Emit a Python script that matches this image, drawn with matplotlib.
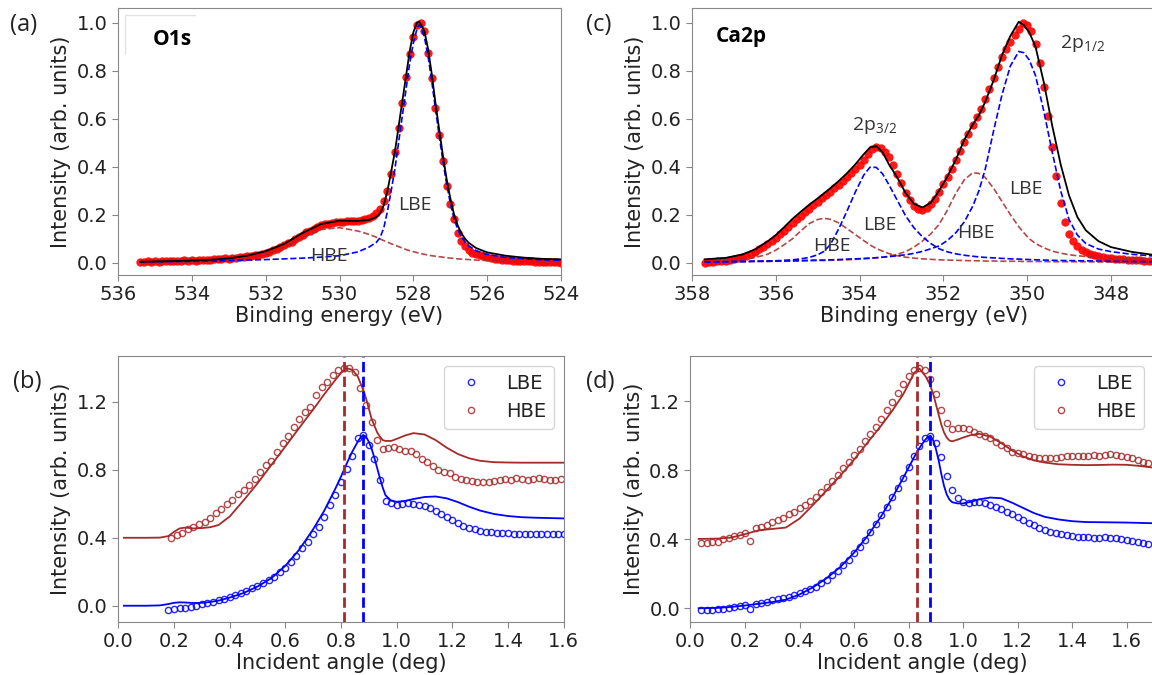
import matplotlib
matplotlib.use("Agg")
import matplotlib.pyplot as plt

# ---------------- (a) O1s spectrum ----------------
o1s_energy = [
    535.4, 535.3, 535.2, 535.1, 535.0, 534.9, 534.8, 534.7, 534.6, 534.5,
    534.4, 534.3, 534.2, 534.1, 534.0, 533.9, 533.8, 533.7, 533.6, 533.5,
    533.4, 533.3, 533.2, 533.1, 533.0, 532.9, 532.8, 532.7, 532.6, 532.5,
    532.4, 532.3, 532.2, 532.1, 532.0, 531.9, 531.8, 531.7, 531.6, 531.5,
    531.4, 531.3, 531.2, 531.1, 531.0, 530.9, 530.8, 530.7, 530.6, 530.5,
    530.4, 530.3, 530.2, 530.1, 530.0, 529.9, 529.8, 529.7, 529.6, 529.5,
    529.4, 529.3, 529.2, 529.1, 529.0, 528.9, 528.8, 528.7, 528.6, 528.5,
    528.4, 528.3, 528.2, 528.1, 528.0, 527.9, 527.8, 527.7, 527.6, 527.5,
    527.4, 527.3, 527.2, 527.1, 527.0, 526.9, 526.8, 526.7, 526.6, 526.5,
    526.4, 526.3, 526.2, 526.1, 526.0, 525.9, 525.8, 525.7, 525.6, 525.5,
    525.4, 525.3, 525.2, 525.1, 525.0, 524.9, 524.8, 524.7, 524.6, 524.5,
    524.4, 524.3, 524.2, 524.1, 524.0]
o1s_data = [
    0.004, 0.002, 0.006, 0.003, 0.005, 0.004, 0.007, 0.005, 0.008, 0.006,
    0.008, 0.007, 0.010, 0.008, 0.011, 0.009, 0.012, 0.011, 0.013, 0.012,
    0.014, 0.015, 0.016, 0.018, 0.017, 0.020, 0.021, 0.023, 0.025, 0.027,
    0.029, 0.031, 0.034, 0.037, 0.041, 0.046, 0.051, 0.057, 0.064, 0.072,
    0.080, 0.088, 0.097, 0.107, 0.117, 0.126, 0.134, 0.142, 0.149, 0.155,
    0.160, 0.163, 0.166, 0.168, 0.170, 0.171, 0.172, 0.173, 0.174, 0.175,
    0.177, 0.181, 0.187, 0.196, 0.208, 0.225, 0.255, 0.300, 0.370, 0.460,
    0.560, 0.665, 0.775, 0.870, 0.940, 0.990, 1.000, 0.965, 0.875, 0.770,
    0.645, 0.530, 0.425, 0.320, 0.245, 0.180, 0.125, 0.092, 0.068, 0.052,
    0.042, 0.035, 0.030, 0.026, 0.022, 0.020, 0.017, 0.015, 0.013, 0.012,
    0.010, 0.009, 0.008, 0.007, 0.006, 0.006, 0.005, 0.004, 0.004, 0.003,
    0.003, 0.002, 0.002, 0.001, 0.000]

o1s_fit_energy = [
    535.4, 535.0, 534.5, 534.0, 533.5, 533.0, 532.5, 532.0, 531.5, 531.0,
    530.5, 530.0, 529.5, 529.2, 529.0, 528.9, 528.8, 528.7, 528.6, 528.5,
    528.4, 528.3, 528.2, 528.1, 528.0, 527.9, 527.85, 527.8, 527.7, 527.6,
    527.5, 527.4, 527.3, 527.2, 527.1, 527.0, 526.9, 526.8, 526.7, 526.6,
    526.5, 526.3, 526.0, 525.5, 525.0, 524.5, 524.0]
o1s_total = [
    0.004, 0.005, 0.007, 0.009, 0.012, 0.018, 0.029, 0.048, 0.078, 0.124,
    0.161, 0.175, 0.174, 0.178, 0.190, 0.205, 0.240, 0.300, 0.380, 0.462,
    0.566, 0.671, 0.775, 0.880, 0.960, 1.000, 1.005, 0.995, 0.965, 0.890,
    0.785, 0.665, 0.555, 0.448, 0.350, 0.270, 0.203, 0.156, 0.123, 0.100,
    0.083, 0.061, 0.043, 0.029, 0.021, 0.016, 0.014]
o1s_lbe = [
    0.003, 0.004, 0.005, 0.006, 0.007, 0.009, 0.011, 0.013, 0.016, 0.019,
    0.023, 0.029, 0.045, 0.065, 0.085, 0.105, 0.145, 0.215, 0.300, 0.390,
    0.500, 0.610, 0.720, 0.830, 0.915, 0.975, 0.990, 0.985, 0.940, 0.860,
    0.755, 0.640, 0.530, 0.425, 0.330, 0.250, 0.185, 0.140, 0.108, 0.086,
    0.070, 0.050, 0.034, 0.022, 0.016, 0.012, 0.010]
o1s_hbe = [
    0.000, 0.001, 0.002, 0.003, 0.005, 0.009, 0.018, 0.035, 0.062, 0.105,
    0.138, 0.146, 0.132, 0.118, 0.106, 0.099, 0.092, 0.086, 0.079, 0.073,
    0.067, 0.061, 0.055, 0.050, 0.046, 0.042, 0.040, 0.038, 0.035, 0.032,
    0.029, 0.027, 0.025, 0.023, 0.021, 0.019, 0.018, 0.016, 0.015, 0.014,
    0.013, 0.011, 0.009, 0.007, 0.005, 0.004, 0.004]

# ---------------- (c) Ca2p spectrum ----------------
ca_energy = [
    357.7, 357.6, 357.5, 357.4, 357.3, 357.2, 357.1, 357.0, 356.9, 356.8,
    356.7, 356.6, 356.5, 356.4, 356.3, 356.2, 356.1, 356.0, 355.9, 355.8,
    355.7, 355.6, 355.5, 355.4, 355.3, 355.2, 355.1, 355.0, 354.9, 354.8,
    354.7, 354.6, 354.5, 354.4, 354.3, 354.2, 354.1, 354.0, 353.9, 353.8,
    353.7, 353.6, 353.5, 353.4, 353.3, 353.2, 353.1, 353.0, 352.9, 352.8,
    352.7, 352.6, 352.5, 352.4, 352.3, 352.2, 352.1, 352.0, 351.9, 351.8,
    351.7, 351.6, 351.5, 351.4, 351.3, 351.2, 351.1, 351.0, 350.9, 350.8,
    350.7, 350.6, 350.5, 350.4, 350.3, 350.2, 350.1, 350.0, 349.9, 349.8,
    349.7, 349.6, 349.5, 349.4, 349.3, 349.2, 349.1, 349.0, 348.9, 348.8,
    348.7, 348.6, 348.5, 348.4, 348.3, 348.2, 348.1, 348.0, 347.9, 347.8,
    347.7, 347.6, 347.5, 347.4, 347.3, 347.2, 347.1, 347.0]
ca_data = [
    0.000, 0.002, 0.004, 0.005, 0.007, 0.009, 0.011, 0.014, 0.018, 0.023,
    0.029, 0.036, 0.045, 0.055, 0.066, 0.078, 0.090, 0.104, 0.118, 0.133,
    0.149, 0.165, 0.180, 0.195, 0.210, 0.225, 0.240, 0.254, 0.268, 0.282,
    0.296, 0.310, 0.325, 0.340, 0.356, 0.373, 0.390, 0.408, 0.428, 0.452,
    0.472, 0.482, 0.478, 0.463, 0.440, 0.408, 0.370, 0.330, 0.292, 0.262,
    0.238, 0.224, 0.218, 0.226, 0.244, 0.266, 0.294, 0.326, 0.358, 0.392,
    0.428, 0.465, 0.502, 0.538, 0.572, 0.605, 0.640, 0.680, 0.725, 0.770,
    0.815, 0.855, 0.890, 0.920, 0.948, 0.975, 1.000, 0.990, 0.965, 0.910,
    0.830, 0.730, 0.610, 0.480, 0.360, 0.250, 0.170, 0.120, 0.090, 0.068,
    0.053, 0.043, 0.036, 0.030, 0.026, 0.022, 0.020, 0.018, 0.016, 0.015,
    0.014, 0.013, 0.012, 0.011, 0.010, 0.009, 0.008, 0.007]

ca_fit_energy = [
    357.7, 357.2, 356.8, 356.5, 356.2, 356.0, 355.8, 355.6, 355.4, 355.2,
    355.0, 354.85, 354.7, 354.5, 354.3, 354.1, 353.9, 353.75, 353.6, 353.45,
    353.3, 353.1, 352.9, 352.7, 352.5, 352.3, 352.1, 351.9, 351.7, 351.5,
    351.3, 351.15, 351.0, 350.8, 350.6, 350.4, 350.2, 350.08, 349.95, 349.8,
    349.6, 349.4, 349.2, 349.0, 348.8, 348.6, 348.3, 348.0, 347.5, 347.0]
ca_total = [
    0.014, 0.020, 0.034, 0.055, 0.088, 0.115, 0.148, 0.183, 0.213, 0.242,
    0.268, 0.289, 0.310, 0.340, 0.373, 0.410, 0.452, 0.480, 0.486, 0.460,
    0.410, 0.355, 0.290, 0.245, 0.230, 0.250, 0.300, 0.360, 0.430, 0.512,
    0.575, 0.615, 0.670, 0.760, 0.865, 0.945, 1.004, 0.990, 0.960, 0.900,
    0.750, 0.570, 0.410, 0.280, 0.190, 0.135, 0.090, 0.065, 0.045, 0.033]
ca_lbe_32 = [
    0.003, 0.004, 0.005, 0.006, 0.007, 0.008, 0.010, 0.012, 0.016, 0.022,
    0.033, 0.047, 0.075, 0.140, 0.215, 0.295, 0.365, 0.398, 0.397, 0.370,
    0.325, 0.260, 0.195, 0.145, 0.108, 0.080, 0.058, 0.045, 0.037, 0.031,
    0.027, 0.024, 0.022, 0.020, 0.018, 0.016, 0.015, 0.014, 0.013, 0.012,
    0.011, 0.010, 0.009, 0.009, 0.008, 0.008, 0.007, 0.006, 0.005, 0.004]
ca_hbe_32 = [
    0.004, 0.008, 0.013, 0.021, 0.035, 0.052, 0.075, 0.100, 0.133, 0.163,
    0.180, 0.185, 0.181, 0.166, 0.142, 0.117, 0.092, 0.074, 0.059, 0.048,
    0.038, 0.029, 0.023, 0.019, 0.016, 0.014, 0.012, 0.011, 0.010, 0.009,
    0.008, 0.008, 0.007, 0.007, 0.006, 0.006, 0.006, 0.005, 0.005, 0.005,
    0.005, 0.004, 0.004, 0.004, 0.004, 0.004, 0.003, 0.003, 0.003, 0.003]
ca_hbe_12 = [
    0.003, 0.004, 0.004, 0.005, 0.005, 0.006, 0.006, 0.007, 0.007, 0.008,
    0.009, 0.009, 0.010, 0.011, 0.012, 0.014, 0.016, 0.018, 0.020, 0.023,
    0.027, 0.035, 0.046, 0.065, 0.090, 0.120, 0.160, 0.220, 0.290, 0.345,
    0.375, 0.372, 0.355, 0.310, 0.255, 0.200, 0.150, 0.125, 0.100, 0.080,
    0.062, 0.048, 0.040, 0.033, 0.029, 0.026, 0.022, 0.020, 0.018, 0.017]
ca_lbe_12 = [
    0.004, 0.004, 0.005, 0.006, 0.006, 0.007, 0.008, 0.008, 0.009, 0.010,
    0.011, 0.011, 0.012, 0.013, 0.015, 0.016, 0.018, 0.019, 0.021, 0.023,
    0.025, 0.029, 0.033, 0.039, 0.047, 0.058, 0.070, 0.093, 0.125, 0.170,
    0.235, 0.300, 0.390, 0.550, 0.700, 0.820, 0.880, 0.875, 0.845, 0.780,
    0.630, 0.460, 0.300, 0.180, 0.115, 0.080, 0.057, 0.046, 0.035, 0.028]

# ---------------- (b) O1s angle scan ----------------
b_angle_lbe = [
    0.18, 0.20, 0.22, 0.24, 0.26, 0.28, 0.30, 0.32, 0.34, 0.36,
    0.38, 0.40, 0.42, 0.44, 0.46, 0.48, 0.50, 0.52, 0.54, 0.56,
    0.58, 0.60, 0.62, 0.64, 0.66, 0.68, 0.70, 0.72, 0.74, 0.76,
    0.78, 0.80, 0.82, 0.84, 0.86, 0.88, 0.90, 0.92, 0.94, 0.96,
    0.98, 1.00, 1.02, 1.04, 1.06, 1.08, 1.10, 1.12, 1.14, 1.16,
    1.18, 1.20, 1.22, 1.24, 1.26, 1.28, 1.30, 1.32, 1.34, 1.36,
    1.38, 1.40, 1.42, 1.44, 1.46, 1.48, 1.50, 1.52, 1.54, 1.56,
    1.58, 1.60]
b_lbe = [
    -0.025, -0.019, -0.016, -0.012, -0.006, 0.000, 0.008, 0.014, 0.024, 0.032,
    0.040, 0.050, 0.064, 0.074, 0.087, 0.103, 0.118, 0.134, 0.152, 0.171,
    0.197, 0.224, 0.259, 0.295, 0.338, 0.377, 0.420, 0.465, 0.524, 0.593,
    0.654, 0.728, 0.804, 0.884, 0.990, 1.006, 0.947, 0.864, 0.740, 0.619,
    0.603, 0.593, 0.597, 0.603, 0.597, 0.593, 0.587, 0.574, 0.558, 0.538,
    0.521, 0.503, 0.489, 0.472, 0.460, 0.450, 0.442, 0.436, 0.432, 0.430,
    0.428, 0.426, 0.424, 0.422, 0.420, 0.422, 0.424, 0.424, 0.424, 0.422,
    0.422, 0.420]
b_angle_hbe = [
    0.19, 0.21, 0.23, 0.25, 0.27, 0.29, 0.31, 0.33, 0.35, 0.37,
    0.39, 0.41, 0.43, 0.45, 0.47, 0.49, 0.51, 0.53, 0.55, 0.57,
    0.59, 0.61, 0.63, 0.65, 0.67, 0.69, 0.71, 0.73, 0.75, 0.77,
    0.79, 0.81, 0.83, 0.85, 0.87, 0.89, 0.91, 0.93, 0.95, 0.97,
    0.99, 1.01, 1.03, 1.05, 1.07, 1.09, 1.11, 1.13, 1.15, 1.17,
    1.19, 1.21, 1.23, 1.25, 1.27, 1.29, 1.31, 1.33, 1.35, 1.37,
    1.39, 1.41, 1.43, 1.45, 1.47, 1.49, 1.51, 1.53, 1.55, 1.57,
    1.59]
b_hbe = [
    0.400, 0.416, 0.426, 0.452, 0.465, 0.479, 0.495, 0.518, 0.544, 0.569,
    0.597, 0.622, 0.656, 0.681, 0.711, 0.746, 0.785, 0.829, 0.852, 0.907,
    0.956, 1.001, 1.054, 1.100, 1.139, 1.172, 1.241, 1.290, 1.319, 1.359,
    1.388, 1.402, 1.402, 1.378, 1.280, 1.182, 1.084, 0.976, 0.923, 0.931,
    0.934, 0.921, 0.913, 0.911, 0.891, 0.864, 0.844, 0.825, 0.799, 0.785,
    0.779, 0.760, 0.746, 0.740, 0.734, 0.730, 0.726, 0.730, 0.734, 0.740,
    0.746, 0.740, 0.754, 0.746, 0.742, 0.746, 0.750, 0.746, 0.742, 0.742,
    0.746]
b_fit_angle = [
    0.02, 0.10, 0.15, 0.18, 0.20, 0.22, 0.24, 0.27, 0.30, 0.33,
    0.36, 0.40, 0.45, 0.50, 0.55, 0.60, 0.65, 0.70, 0.74, 0.78,
    0.80, 0.82, 0.84, 0.86, 0.87, 0.88, 0.89, 0.90, 0.91, 0.92,
    0.93, 0.94, 0.95, 0.96, 0.98, 1.00, 1.03, 1.06, 1.10, 1.14,
    1.18, 1.22, 1.26, 1.30, 1.35, 1.40, 1.45, 1.50, 1.55, 1.60]
b_lbe_fit = [
    0.000, 0.000, 0.002, 0.010, 0.017, 0.020, 0.019, 0.016, 0.017, 0.022,
    0.030, 0.048, 0.075, 0.113, 0.162, 0.235, 0.330, 0.450, 0.560, 0.690,
    0.760, 0.835, 0.905, 0.965, 0.990, 1.005, 0.995, 0.965, 0.925, 0.870,
    0.810, 0.750, 0.695, 0.650, 0.618, 0.612, 0.617, 0.628, 0.640, 0.643,
    0.632, 0.610, 0.583, 0.560, 0.540, 0.528, 0.521, 0.518, 0.516, 0.514]
b_hbe_fit = [
    0.400, 0.400, 0.401, 0.410, 0.435, 0.455, 0.460, 0.455, 0.457, 0.462,
    0.475, 0.525, 0.620, 0.720, 0.829, 0.937, 1.047, 1.155, 1.245, 1.330,
    1.370, 1.397, 1.390, 1.350, 1.310, 1.270, 1.220, 1.160, 1.100, 1.060,
    1.020, 0.995, 0.975, 0.970, 0.970, 0.982, 1.002, 1.016, 1.008, 0.975,
    0.930, 0.893, 0.868, 0.853, 0.845, 0.843, 0.842, 0.842, 0.842, 0.842]

# ---------------- (d) Ca2p angle scan ----------------
d_angle = [
    0.04, 0.06, 0.08, 0.10, 0.12, 0.14, 0.16, 0.18, 0.20, 0.22,
    0.24, 0.26, 0.28, 0.30, 0.32, 0.34, 0.36, 0.38, 0.40, 0.42,
    0.44, 0.46, 0.48, 0.50, 0.52, 0.54, 0.56, 0.58, 0.60, 0.62,
    0.64, 0.66, 0.68, 0.70, 0.72, 0.74, 0.76, 0.78, 0.80, 0.82,
    0.84, 0.86, 0.88, 0.90, 0.92, 0.94, 0.96, 0.98, 1.00, 1.02,
    1.04, 1.06, 1.08, 1.10, 1.12, 1.14, 1.16, 1.18, 1.20, 1.22,
    1.24, 1.26, 1.28, 1.30, 1.32, 1.34, 1.36, 1.38, 1.40, 1.42,
    1.44, 1.46, 1.48, 1.50, 1.52, 1.54, 1.56, 1.58, 1.60, 1.62,
    1.64, 1.66, 1.68]
d_lbe = [
    -0.010, -0.010, -0.008, -0.006, -0.002, 0.002, 0.007, 0.012, 0.016, -0.002,
    0.027, 0.033, 0.039, 0.046, 0.053, 0.060, 0.068, 0.077, 0.087, 0.098,
    0.110, 0.126, 0.145, 0.166, 0.190, 0.217, 0.248, 0.282, 0.318, 0.357,
    0.398, 0.442, 0.490, 0.540, 0.590, 0.645, 0.700, 0.757, 0.817, 0.884,
    0.942, 0.989, 1.000, 0.956, 0.879, 0.769, 0.686, 0.638, 0.618, 0.613,
    0.615, 0.618, 0.609, 0.600, 0.590, 0.576, 0.561, 0.545, 0.530, 0.513,
    0.497, 0.480, 0.464, 0.452, 0.445, 0.435, 0.429, 0.423, 0.420, 0.416,
    0.414, 0.414, 0.410, 0.406, 0.416, 0.410, 0.406, 0.402, 0.396, 0.390,
    0.383, 0.377, 0.371]
d_hbe = [
    0.377, 0.381, 0.383, 0.387, 0.402, 0.410, 0.419, 0.425, 0.435, 0.392,
    0.464, 0.473, 0.483, 0.498, 0.512, 0.525, 0.545, 0.560, 0.579, 0.599,
    0.622, 0.647, 0.676, 0.705, 0.737, 0.772, 0.811, 0.849, 0.888, 0.926,
    0.969, 1.008, 1.052, 1.100, 1.149, 1.197, 1.250, 1.300, 1.345, 1.380,
    1.395, 1.380, 1.330, 1.240, 1.150, 1.075, 1.040, 1.043, 1.043, 1.037,
    1.024, 1.008, 1.000, 0.989, 0.966, 0.947, 0.927, 0.908, 0.898, 0.892,
    0.885, 0.879, 0.873, 0.869, 0.869, 0.873, 0.879, 0.885, 0.885, 0.885,
    0.885, 0.885, 0.889, 0.885, 0.889, 0.892, 0.889, 0.885, 0.879, 0.873,
    0.860, 0.850, 0.845]
d_fit_angle = [
    0.03, 0.10, 0.15, 0.20, 0.25, 0.30, 0.35, 0.40, 0.45, 0.50,
    0.55, 0.60, 0.65, 0.70, 0.74, 0.78, 0.80, 0.82, 0.84, 0.86,
    0.87, 0.88, 0.89, 0.90, 0.91, 0.92, 0.93, 0.94, 0.95, 0.96,
    0.98, 1.00, 1.03, 1.06, 1.10, 1.14, 1.18, 1.22, 1.26, 1.30,
    1.35, 1.40, 1.45, 1.50, 1.55, 1.60, 1.65, 1.70]
d_lbe_fit = [
    0.000, 0.002, 0.008, 0.016, 0.026, 0.036, 0.050, 0.080, 0.122, 0.175,
    0.240, 0.322, 0.420, 0.535, 0.640, 0.755, 0.815, 0.875, 0.930, 0.975,
    0.992, 1.000, 0.975, 0.925, 0.860, 0.780, 0.710, 0.660, 0.630, 0.615,
    0.608, 0.608, 0.618, 0.632, 0.642, 0.638, 0.612, 0.582, 0.552, 0.530,
    0.515, 0.505, 0.500, 0.499, 0.498, 0.497, 0.495, 0.493]
d_hbe_fit = [
    0.402, 0.404, 0.410, 0.430, 0.452, 0.460, 0.468, 0.520, 0.600, 0.685,
    0.770, 0.862, 0.962, 1.060, 1.145, 1.240, 1.300, 1.365, 1.390, 1.350,
    1.325, 1.290, 1.245, 1.185, 1.125, 1.065, 1.020, 0.990, 0.973, 0.968,
    0.978, 0.990, 1.005, 1.012, 0.995, 0.958, 0.915, 0.880, 0.858, 0.845,
    0.835, 0.832, 0.830, 0.831, 0.833, 0.832, 0.825, 0.815]

b_vlines = [0.81, 0.88]   # HBE, LBE critical angles
d_vlines = [0.83, 0.88]

# ---------------- styling ----------------
TEXT = "#222222"
SPINE = "#888888"
ANNOT_FONT = ["Open Sans", "DejaVu Sans"]
plt.rcParams["font.family"] = ["DejaVu Sans"]
plt.rcParams["mathtext.fontset"] = "custom"
plt.rcParams["mathtext.rm"] = "Open Sans"
plt.rcParams["mathtext.it"] = "Open Sans"

fig = plt.figure(figsize=(11.52, 6.75), dpi=100)
ax_a = fig.add_axes([0.10243, 0.59304, 0.38455, 0.39467])
ax_c = fig.add_axes([0.60069, 0.59304, 0.40365, 0.39467])
ax_b = fig.add_axes([0.10269, 0.07896, 0.38663, 0.39363])
ax_d = fig.add_axes([0.59939, 0.07896, 0.40226, 0.39363])


def style(ax, xlabel):
    for s in ax.spines.values():
        s.set_color(SPINE)
    ax.tick_params(labelsize=14, colors=SPINE, labelcolor=TEXT, length=4)
    ax.set_ylabel("Intensity (arb. units)", fontsize=15, color=TEXT)
    ax.set_xlabel(xlabel, fontsize=15, color=TEXT, labelpad=1.5)


# (a)
ax = ax_a
ax.plot(o1s_energy, o1s_data, "o", color="red", ms=6, alpha=0.9, mec="none", zorder=1)
ax.plot(o1s_fit_energy, o1s_hbe, "--", color="brown", lw=1.2, alpha=0.85, zorder=2)
ax.plot(o1s_fit_energy, o1s_lbe, "--", color="blue", lw=1.2, zorder=3)
ax.plot(o1s_fit_energy, o1s_total, "-", color="black", lw=1.3, zorder=4)
ax.set_xlim(536, 524)
ax.set_ylim(-0.05, 1.06)
ax.set_xticks([536, 534, 532, 530, 528, 526, 524])
ax.set_yticks([0.0, 0.2, 0.4, 0.6, 0.8, 1.0])
style(ax, "Binding energy (eV)")
ax.plot([0.174, 0.016, 0.016], [0.975, 0.975, 0.832], transform=ax.transAxes,
        color="#e2e2e2", lw=1)
ax.text(535.06, 0.93, "O1s", fontsize=15, fontweight="bold", family=ANNOT_FONT,
        color="black", ha="left", va="center")
ax.text(527.95, 0.24, "LBE", fontsize=14, family=ANNOT_FONT, color="#333333",
        ha="center", va="center")
ax.text(530.28, 0.028, "HBE", fontsize=14, family=ANNOT_FONT, color="#333333",
        ha="center", va="center")

# (c)
ax = ax_c
ax.plot(ca_energy, ca_data, "o", color="red", ms=6, alpha=0.9, mec="none", zorder=1)
ax.plot(ca_fit_energy, ca_hbe_32, "--", color="brown", lw=1.2, alpha=0.85, zorder=2)
ax.plot(ca_fit_energy, ca_hbe_12, "--", color="brown", lw=1.2, alpha=0.85, zorder=2)
ax.plot(ca_fit_energy, ca_lbe_32, "--", color="blue", lw=1.2, zorder=3)
ax.plot(ca_fit_energy, ca_lbe_12, "--", color="blue", lw=1.2, zorder=3)
ax.plot(ca_fit_energy, ca_total, "-", color="black", lw=1.3, zorder=4)
ax.set_xlim(358, 346.9)
ax.set_ylim(-0.05, 1.06)
ax.set_xticks([358, 356, 354, 352, 350, 348])
ax.set_yticks([0.0, 0.2, 0.4, 0.6, 0.8, 1.0])
style(ax, "Binding energy (eV)")
ax.text(357.43, 0.942, "Ca2p", fontsize=15, fontweight="bold", family=ANNOT_FONT,
        color="black", ha="left", va="center")
ax.text(353.64, 0.57, r"2p$_{3/2}$", fontsize=14, family=ANNOT_FONT, color="#333333",
        ha="center", va="center")
ax.text(348.67, 0.914, r"2p$_{1/2}$", fontsize=14, family=ANNOT_FONT, color="#333333",
        ha="center", va="center")
for x, y, s in [(353.51, 0.157, "LBE"), (354.67, 0.071, "HBE"),
                (350.03, 0.306, "LBE"), (351.22, 0.125, "HBE")]:
    ax.text(x, y, s, fontsize=14, family=ANNOT_FONT, color="#333333",
            ha="center", va="center")

# (b)
ax = ax_b
ax.plot(b_angle_lbe, b_lbe, "o", mfc="none", mec="blue", ms=4.5, mew=1, alpha=0.85,
        label="LBE")
ax.plot(b_angle_hbe, b_hbe, "o", mfc="none", mec="brown", ms=4.5, mew=1, alpha=0.85,
        label="HBE")
ax.plot(b_fit_angle, b_lbe_fit, "-", color="blue", lw=1.3)
ax.plot(b_fit_angle, b_hbe_fit, "-", color="brown", lw=1.3)
ax.axvline(b_vlines[0], color="brown", ls="--", lw=2)
ax.axvline(b_vlines[1], color="blue", ls="--", lw=2)
ax.set_xlim(0, 1.6)
ax.set_ylim(-0.094, 1.47)
ax.set_xticks([0.0, 0.2, 0.4, 0.6, 0.8, 1.0, 1.2, 1.4, 1.6])
ax.set_yticks([0.0, 0.4, 0.8, 1.2])
style(ax, "Incident angle (deg)")
leg = ax.legend(loc="upper right", fontsize=14, labelcolor=TEXT)
leg.get_frame().set_edgecolor("#cccccc")

# (d)
ax = ax_d
ax.plot(d_angle, d_lbe, "o", mfc="none", mec="blue", ms=4.5, mew=1, alpha=0.85,
        label="LBE")
ax.plot(d_angle, d_hbe, "o", mfc="none", mec="brown", ms=4.5, mew=1, alpha=0.85,
        label="HBE")
ax.plot(d_fit_angle, d_lbe_fit, "-", color="blue", lw=1.3)
ax.plot(d_fit_angle, d_hbe_fit, "-", color="brown", lw=1.3)
ax.axvline(d_vlines[0], color="brown", ls="--", lw=2)
ax.axvline(d_vlines[1], color="blue", ls="--", lw=2)
ax.set_xlim(0, 1.7)
ax.set_ylim(-0.078, 1.463)
ax.set_xticks([0.0, 0.2, 0.4, 0.6, 0.8, 1.0, 1.2, 1.4, 1.6])
ax.set_yticks([0.0, 0.4, 0.8, 1.2])
style(ax, "Incident angle (deg)")
leg = ax.legend(loc="upper right", fontsize=14, labelcolor=TEXT)
leg.get_frame().set_edgecolor("#cccccc")

# panel letters
for x, y, s in [(24, 25, "(a)"), (599, 25, "(c)"), (27, 382, "(b)"), (600, 382, "(d)")]:
    fig.text(x / 1152, 1 - y / 675, s, fontsize=17, family=ANNOT_FONT, color=TEXT,
             ha="center", va="center")

fig.savefig("out.png", dpi=100)
